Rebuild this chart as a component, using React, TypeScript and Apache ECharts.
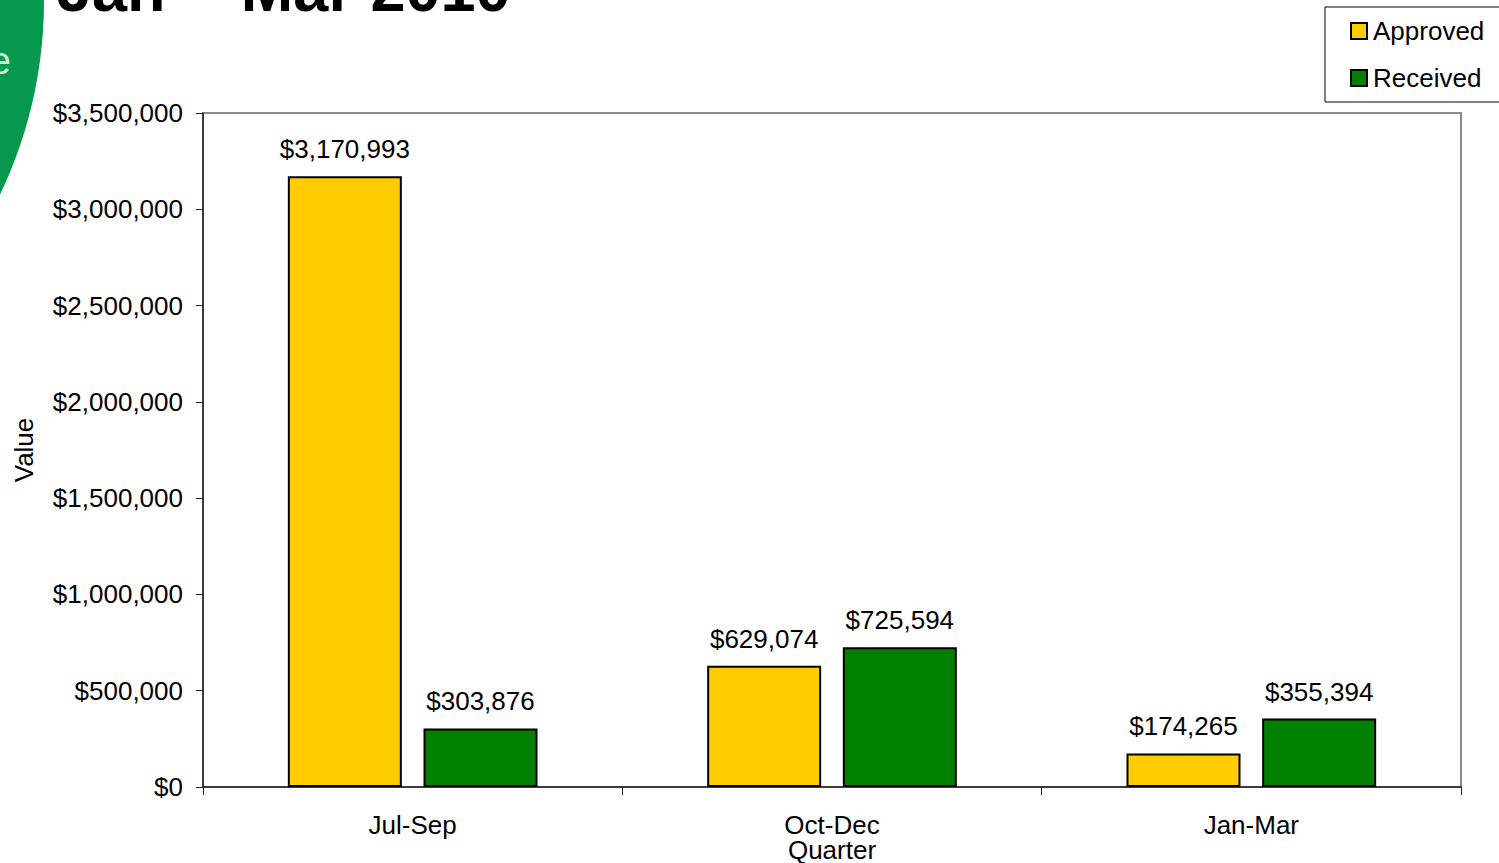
import React, { useEffect, useRef } from "react";
import * as echarts from "echarts";

const categories = ["Jul-Sep", "Oct-Dec", "Jan-Mar"];
const approved = [3170993, 629074, 174265];
const received = [303876, 725594, 355394];
const yTicks = { min: 0, max: 3500000, interval: 500000 };
const titleText = "Jan \u2013 \u200aMar 2010";

const money = (v: number) => "$" + Math.round(v).toLocaleString("en-US");
const FONT = "Arial, 'Liberation Sans', sans-serif";

export default function App() {
  const ref = useRef<HTMLDivElement>(null);
  useEffect(() => {
    const chart = echarts.init(ref.current!, null, { renderer: "svg" });
    chart.setOption({
      animation: false,
      backgroundColor: "#ffffff",
      textStyle: { fontFamily: FONT },
      graphic: [
        {
          type: "circle",
          shape: { cx: -404, cy: 1, r: 448 },
          style: { fill: "#06984c" },
          z: 0,
        },
        {
          type: "text",
          style: {
            text: "e",
            x: 11,
            y: 61,
            align: "right",
            verticalAlign: "middle",
            font: "lighter 38px " + FONT,
            fill: "#cfeadb",
          },
        },
        {
          type: "text",
          style: {
            text: titleText,
            x: 57,
            y: 20,
            align: "left",
            verticalAlign: "bottom",
            font: "bold 63px " + FONT,
            fill: "#000000",
          },
        },
      ],
      legend: {
        orient: "vertical",
        left: 1325,
        top: 7,
        padding: [11, 40, 11, 25],
        itemGap: 21,
        itemWidth: 16,
        itemHeight: 16,
        borderColor: "#000000",
        borderWidth: 1,
        backgroundColor: "#ffffff",
        icon: "rect",
        textStyle: { fontSize: 26, color: "#000", fontFamily: FONT, padding: [0, 0, 0, 1] },
        data: ["Approved", "Received"],
      },
      grid: {
        left: 203,
        top: 113,
        right: 38,
        bottom: 76,
        show: true,
        borderColor: "#8c8c8c",
        borderWidth: 2,
        containLabel: false,
        outerBoundsMode: "none",
      },
      xAxis: {
        type: "category",
        data: categories,
        name: "Quarter",
        nameLocation: "middle",
        nameGap: 50,
        nameMoveOverlap: false,
        nameTextStyle: { fontSize: 26, color: "#000", fontFamily: FONT },
        axisLine: { lineStyle: { color: "#222", width: 1.5 } },
        axisTick: { show: true, length: 8, lineStyle: { color: "#222", width: 1 } },
        axisLabel: { fontSize: 26, color: "#000", margin: 25, fontFamily: FONT },
        splitLine: { show: false },
      },
      yAxis: {
        type: "value",
        min: yTicks.min,
        max: yTicks.max,
        interval: yTicks.interval,
        name: "Value",
        nameLocation: "middle",
        nameGap: 166,
        nameRotate: 90,
        nameMoveOverlap: false,
        nameTextStyle: { fontSize: 26, color: "#000", fontFamily: FONT },
        axisLine: { show: true, lineStyle: { color: "#222", width: 1.5 } },
        axisTick: { show: true, length: 7, lineStyle: { color: "#222", width: 1 } },
        axisLabel: { fontSize: 26, color: "#000", margin: 20, fontFamily: FONT, formatter: (v: number) => money(v) },
        splitLine: { show: false },
      },
      series: [
        {
          name: "Approved",
          type: "bar",
          data: approved,
          barWidth: 114,
          barGap: "19%",
          itemStyle: { color: "#FFCC00", borderColor: "#000", borderWidth: 2 },
          label: {
            show: true,
            position: "top",
            distance: 14,
            fontSize: 26,
            color: "#000",
            fontFamily: FONT,
            formatter: (p: any) => money(p.value),
          },
        },
        {
          name: "Received",
          type: "bar",
          data: received,
          barWidth: 114,
          barGap: "19%",
          itemStyle: { color: "#008000", borderColor: "#000", borderWidth: 2 },
          label: {
            show: true,
            position: "top",
            distance: 14,
            fontSize: 26,
            color: "#000",
            fontFamily: FONT,
            formatter: (p: any) => money(p.value),
          },
        },
      ],
    });
    return () => chart.dispose();
  }, []);
  return <div ref={ref} style={{ width: 1499, height: 863, position: "absolute", left: 0, top: 0 }} />;
}
